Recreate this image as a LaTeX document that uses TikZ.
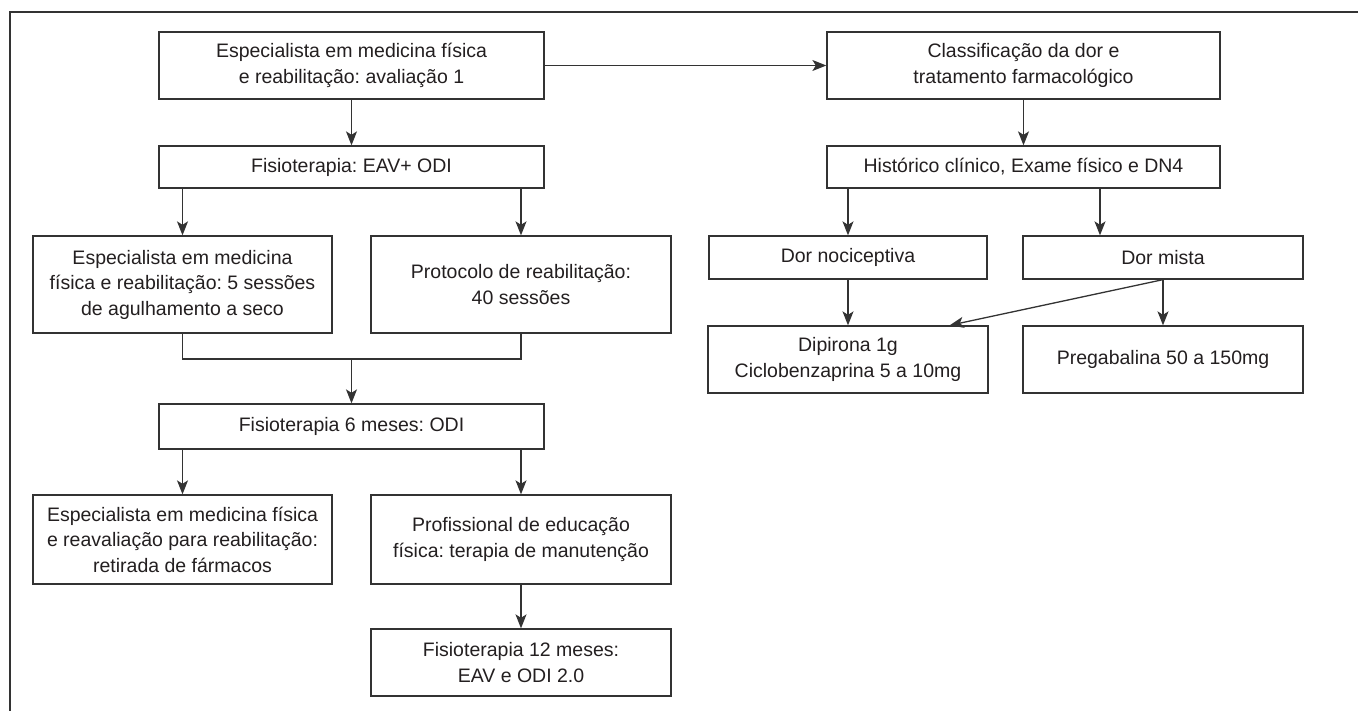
\documentclass[tikz,border=0pt]{standalone}
\usepackage{fontspec}
\setmainfont{Liberation Sans}
\usetikzlibrary{arrows.meta, positioning, calc}
\definecolor{linegray}{RGB}{51, 51, 51}
\definecolor{textgray}{RGB}{35, 31, 32}
\frenchspacing

\begin{document}
\begin{tikzpicture}[
    x=1pt, y=-1pt,
    box/.style={
        rectangle,
        draw=linegray,
        line width=1.3pt,
        fill=white,
        text=textgray,
        minimum width=#1,
        align=center,
        inner sep=2pt,
        font=\fontsize{19.5}{25.5}\selectfont
    },
    arrow/.style={
        -{Stealth[length=14pt, width=11pt, inset=3.5pt]},
        line width=1.3pt,
        draw=linegray
    },
    link/.style={
        line width=1.3pt,
        draw=linegray
    }
]

\useasboundingbox (0,0) rectangle (1358,711);

% Frame (top and left only)
\draw[link] (1358,12) -- (10,12) -- (10,711);

% Define column positions
\def\colA{182.5}   % left branch
\def\colB{351.5}   % main column
\def\colC{521}     % right branch
\def\colD{848}     % nociceptive column
\def\colE{1023.5}  % pain column
\def\colF{1163}    % mixed pain column

% Rehabilitation path
\node[box=385pt, minimum height=67pt] (aval) at (\colB,65.5) {Especialista em medicina física\\e reabilitação: avaliação 1};
\node[box=385pt, minimum height=42pt] (fisio) at (\colB,167) {Fisioterapia: EAV+ ODI};
\node[box=299pt, minimum height=97pt] (agulha) at (\colA,284.5) {Especialista em medicina\\física e reabilitação: 5 sessões\\de agulhamento a seco};
\node[box=300pt, minimum height=97pt] (protocolo) at (\colC,284.5) {Protocolo de reabilitação:\\40 sessões};
\node[box=385pt, minimum height=45pt] (seis) at (\colB,426.5) {Fisioterapia 6 meses: ODI};
\node[box=299pt, minimum height=89pt] (reaval) at (\colA,539.5) {Especialista em medicina física\\e reavaliação para reabilitação:\\retirada de fármacos};
\node[box=300pt, minimum height=89pt] (manut) at (\colC,539.5) {Profissional de educação\\física: terapia de manutenção};
\node[box=300pt, minimum height=67pt] (doze) at (\colC,662.5) {Fisioterapia 12 meses:\\EAV e ODI 2.0};

% Pain path
\node[box=393pt, minimum height=67pt] (classif) at (\colE,65.5) {Classificação da dor e\\tratamento farmacológico};
\node[box=393pt, minimum height=42pt] (hist) at (\colE,167) {Histórico clínico, Exame físico e DN4};
\node[box=278pt, minimum height=43pt] (noci) at (\colD,257.5) {Dor nociceptiva};
\node[box=280pt, minimum height=43pt] (mista) at (\colF,257.5) {Dor mista};
\node[box=280pt, minimum height=67pt] (dipirona) at (\colD,359.5) {Dipirona 1g\\Ciclobenzaprina 5 a 10mg};
\node[box=280pt, minimum height=67pt] (prega) at (\colF,359.5) {Pregabalina 50 a 150mg};

% Connecting arrows
\draw[arrow] (aval.east) -- (classif.west);
\draw[arrow] (aval.south) -- (fisio.north);
\draw[arrow] (fisio.south -| agulha.north) -- (agulha.north);
\draw[arrow] (fisio.south -| protocolo.north) -- (protocolo.north);

% Both sessions join before the 6 month check
\coordinate (merge) at (\colB,359);
\draw[link] (agulha.south) |- (merge) -| (protocolo.south);
\draw[arrow] (merge) -- (seis.north);

\draw[arrow] (seis.south -| reaval.north) -- (reaval.north);
\draw[arrow] (seis.south -| manut.north) -- (manut.north);
\draw[arrow] (manut.south) -- (doze.north);

\draw[arrow] (classif.south) -- (hist.north);
\draw[arrow] (hist.south -| noci.north) -- (noci.north);
\coordinate (split) at (1100,0);
\draw[arrow] (hist.south -| split) -- (mista.north -| split);
\draw[arrow] (noci.south) -- (dipirona.north);
\draw[arrow] (mista.south) -- (prega.north);
\draw[arrow] (mista.south) -- ([xshift=-39pt]dipirona.north east);

\end{tikzpicture}
\end{document}
